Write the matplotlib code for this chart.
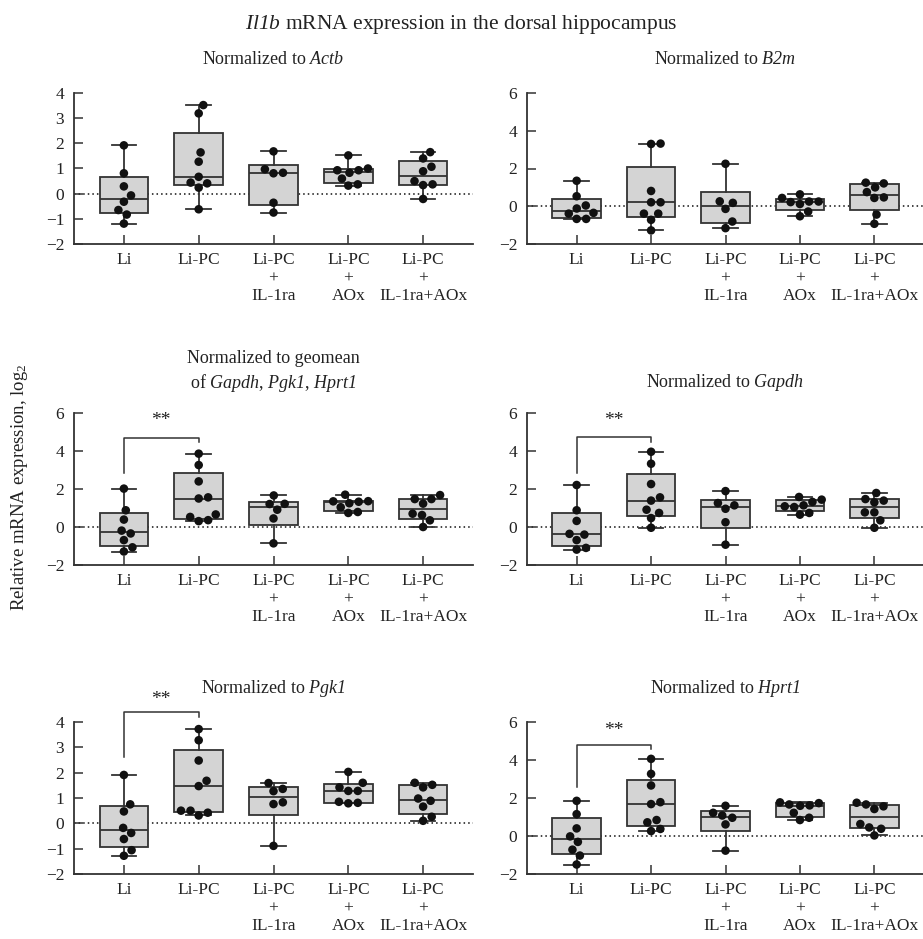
import numpy as np
import matplotlib
matplotlib.use("Agg")
import matplotlib.pyplot as plt

plt.rcParams['font.family'] = ['Liberation Serif', 'DejaVu Serif']
plt.rcParams['mathtext.fontset'] = 'custom'
plt.rcParams['mathtext.rm'] = 'Liberation Serif'
plt.rcParams['mathtext.it'] = 'Liberation Serif:italic'
# \mathcal is used for gene names so that digits are italic too
plt.rcParams['mathtext.cal'] = 'Liberation Serif:italic'

groups = ["Li", "Li-PC", "Li-PC\n+\nIL-1ra", "Li-PC\n+\nAOx", "Li-PC\n+\nIL-1ra+AOx"]

# values (log2 relative expression), one list per group
actb = [[1.92, 0.81, 0.29, -0.07, -0.32, -0.65, -0.83, -1.19],
        [3.52, 3.19, 1.64, 1.27, 0.67, 0.41, 0.24, 0.44, -0.62],
        [1.68, 0.83, 0.81, 0.97, -0.36, -0.75],
        [1.52, 1.00, 0.93, 0.83, 0.93, 0.60, 0.32, 0.37],
        [1.65, 1.40, 1.07, 0.89, 0.50, 0.37, 0.34, -0.21]]
b2m = [[1.35, 0.53, 0.04, -0.12, -0.39, -0.35, -0.67, -0.67],
       [3.30, 3.32, 0.81, 0.21, 0.21, -0.39, -0.39, -0.72, -1.28],
       [2.25, 0.18, 0.26, -0.14, -0.81, -1.16],
       [0.63, 0.44, 0.25, 0.22, 0.12, 0.25, -0.28, -0.53],
       [1.21, 1.25, 1.00, 0.75, 0.44, 0.47, -0.44, -0.93]]
geomean = [[2.02, 0.88, 0.39, -0.34, -0.19, -0.69, -1.07, -1.29],
           [3.86, 3.26, 2.40, 1.50, 1.56, 0.53, 0.31, 0.36, 0.66],
           [1.66, 1.21, 1.22, 0.91, 0.45, -0.86],
           [1.70, 1.36, 1.35, 1.33, 1.25, 1.04, 0.79, 0.74],
           [1.68, 1.47, 1.47, 1.23, 0.70, 0.63, 0.35, 0.00]]
gapdh = [[2.21, 0.88, 0.32, -0.36, -0.40, -0.69, -1.19, -1.10],
         [3.96, 3.33, 2.26, 1.39, 1.56, 0.74, 0.91, 0.47, -0.04],
         [1.89, 1.26, 1.14, 0.96, 0.25, -0.93],
         [1.58, 1.32, 1.44, 1.05, 1.14, 1.09, 0.65, 0.74],
         [1.79, 1.47, 1.30, 1.39, 0.77, 0.77, 0.35, -0.04]]
pgk1 = [[1.91, 0.75, 0.47, -0.18, -0.38, -0.62, -1.06, -1.28],
        [3.72, 3.28, 2.48, 1.68, 1.47, 0.50, 0.31, 0.42, 0.50],
        [1.59, 1.27, 1.36, 0.83, 0.76, -0.89],
        [2.03, 1.60, 1.28, 1.28, 1.42, 0.85, 0.79, 0.81],
        [1.60, 1.42, 1.52, 0.89, 0.98, 0.66, 0.26, 0.10]]
hprt1 = [[1.85, 1.15, 0.40, -0.02, -0.31, -0.72, -1.03, -1.50],
         [4.06, 3.27, 2.66, 1.68, 1.78, 0.72, 0.84, 0.26, 0.37],
         [1.59, 1.22, 0.96, 1.08, 0.61, -0.77],
         [1.59, 1.77, 1.66, 1.73, 1.61, 1.22, 0.84, 0.96],
         [1.66, 1.42, 1.56, 1.75, 0.45, 0.63, 0.38, 0.03]]

titles = ["Normalized to $\\mathcal{Actb}$",
          "Normalized to $\\mathcal{B2m}$",
          "Normalized to geomean\nof $\\mathcal{Gapdh}$, $\\mathcal{Pgk1}$, $\\mathcal{Hprt1}$",
          "Normalized to $\\mathcal{Gapdh}$",
          "Normalized to $\\mathcal{Pgk1}$",
          "Normalized to $\\mathcal{Hprt1}$"]

# Li vs Li-PC bracket: left foot, bar, right foot, stars
brackets = [None, None,
            (2.84, 4.68, 4.47, 5.58),
            (2.84, 4.74, 4.47, 5.58),
            (2.60, 4.40, 4.20, 4.87),
            (2.58, 4.79, 4.58, 5.53)]

W, H = 923, 939
EDGE = '#333333'


def swarm(vals, xpx, ypx, gap):
    # simple beeswarm in pixel space
    vals = np.asarray(vals, float)
    offs = np.zeros(len(vals))
    placed = []
    for i in np.argsort(vals):
        y = vals[i] * ypx
        cands = [0.0]
        for xo, yo in placed:
            dy = y - yo
            if abs(dy) < gap:
                dx = np.sqrt(gap ** 2 - dy ** 2)
                cands += [xo + dx, xo - dx]
        cands.sort(key=abs)
        for c in cands:
            if all((c - xo) ** 2 + (y - yo) ** 2 >= gap ** 2 - 1e-6 for xo, yo in placed):
                break
        placed.append((c, y))
        offs[i] = c / xpx
    return offs


def box_stats(vals):
    q1, med, q3 = np.percentile(vals, [25, 50, 75], method='weibull')
    return dict(med=med, q1=q1, q3=q3, whislo=min(vals), whishi=max(vals), fliers=[])


fig = plt.figure(figsize=(W / 100, H / 100), dpi=100)

# (left px, right px, top px, bottom px, ylim)
layout = [(74, 473, 93, 244, (-2, 4)), (527, 924, 93, 244, (-2, 6)),
          (74, 473, 413, 565, (-2, 6)), (527, 924, 413, 565, (-2, 6)),
          (74, 473, 722, 874, (-2, 4)), (527, 924, 722, 874, (-2, 6))]
title_pads = [21, 21, 18, 19, 21, 21]
panels = [actb, b2m, geomean, gapdh, pgk1, hprt1]

for k, data in enumerate(panels):
    l, r, t, b, ylim = layout[k]
    ax = fig.add_axes([l / W, 1 - b / H, (r - l) / W, (b - t) / H])
    xlim = (-0.667, 4.667)
    ax.set_xlim(xlim)
    ax.set_ylim(ylim)
    xpx = (r - l) / (xlim[1] - xlim[0])
    ypx = (b - t) / (ylim[1] - ylim[0])

    ax.axhline(0, color='#111111', lw=1.1, ls=(0, (1, 2)), zorder=1)
    ax.bxp([box_stats(v) for v in data], positions=range(5), widths=0.65,
           capwidths=0.33, patch_artist=True, showfliers=False,
           boxprops=dict(facecolor='#d4d4d4', edgecolor=EDGE, lw=1.3),
           medianprops=dict(color=EDGE, lw=1.3),
           whiskerprops=dict(color=EDGE, lw=1.3),
           capprops=dict(color=EDGE, lw=1.3), zorder=2)
    for i, v in enumerate(data):
        xs = i + swarm(v, xpx, ypx, 9.5)
        ax.scatter(xs, v, s=38, color='#111111', edgecolors='none', zorder=3)

    br = brackets[k]
    if br is not None:
        ax.plot([0, 0, 1, 1], [br[0], br[1], br[1], br[2]], color=EDGE,
                lw=1.1, clip_on=False, zorder=4)
        ax.text(0.5, br[3], "**", ha='center', va='center', fontsize=14,
                color='#222222')

    ax.set_xticks(range(5))
    ax.set_xticklabels(groups, linespacing=1.15)
    yt = np.arange(ylim[0], ylim[1] + 0.1, 1 if ylim[1] == 4 else 2)
    ax.set_yticks(yt)
    ax.tick_params(direction='in', length=6.5, width=1.1, color=EDGE,
                   labelsize=12.5, labelcolor='#222222')
    ax.tick_params(axis='x', pad=6)
    ax.tick_params(axis='y', pad=7)
    for s in ('top', 'right'):
        ax.spines[s].set_visible(False)
    for s in ('left', 'bottom'):
        ax.spines[s].set_color(EDGE)
        ax.spines[s].set_linewidth(1.3)
    ax.set_title(titles[k], fontsize=13, pad=title_pads[k], color='#222222',
                 linespacing=1.3)

fig.text(0.5, 1 - 24 / H, "$\\mathcal{Il1b}$ mRNA expression in the dorsal hippocampus",
         ha='center', va='center', fontsize=15.5, color='#222222')
fig.text(20 / W, 1 - 487 / H, "Relative mRNA expression, log$_2$", rotation=90,
         ha='center', va='center', fontsize=13.5, color='#222222')

fig.savefig("out.png", dpi=100)
